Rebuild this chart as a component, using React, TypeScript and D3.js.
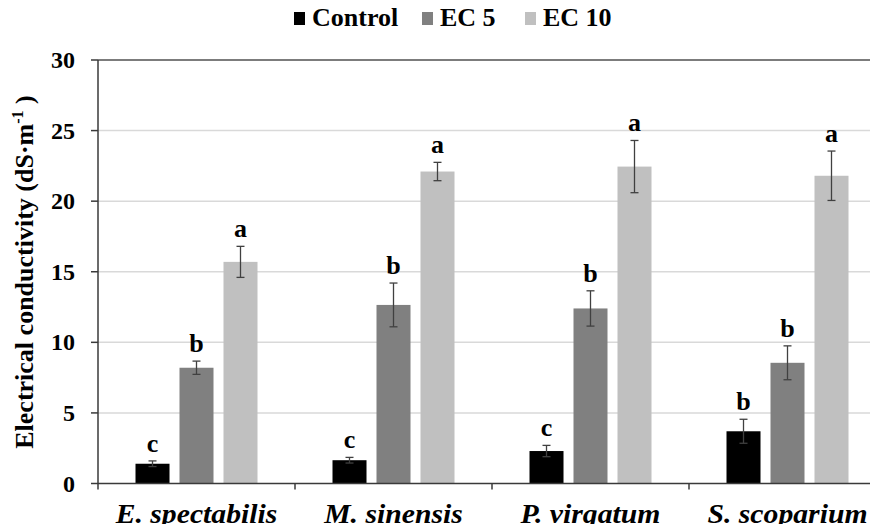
import { useEffect, useRef } from "react";
import * as d3 from "d3";

const species = ["E. spectabilis", "M. sinensis", "P. virgatum", "S. scoparium"];
const seriesNames = ["Control", "EC 5", "EC 10"];
const seriesColors = ["#000000", "#808080", "#c0c0c0"];

const controlValues = [1.4, 1.65, 2.3, 3.7];
const ec5Values = [8.2, 12.65, 12.4, 8.55];
const ec10Values = [15.7, 22.1, 22.45, 21.8];

const controlErrors = [0.2, 0.2, 0.4, 0.85];
const ec5Errors = [0.47, 1.55, 1.25, 1.2];
const ec10Errors = [1.1, 0.65, 1.85, 1.75];

const controlLetters = ["c", "c", "c", "b"];
const ec5Letters = ["b", "b", "b", "b"];
const ec10Letters = ["a", "a", "a", "a"];

const yTicks = [0, 5, 10, 15, 20, 25, 30];

const FONT = "Liberation Serif, Tinos, Times New Roman, Times, DejaVu Serif, serif";

export default function App() {
  const ref = useRef<SVGSVGElement>(null);
  const width = 878;
  const height = 532;

  useEffect(() => {
    const marginTop = 60;
    const marginLeft = 98;
    const plotRight = 886;
    const plotBottom = 483.5;

    const svg = d3.select(ref.current);
    svg.selectAll("*").remove();
    svg.style("font-family", FONT);

    const values = [controlValues, ec5Values, ec10Values];
    const errors = [controlErrors, ec5Errors, ec10Errors];
    const letters = [controlLetters, ec5Letters, ec10Letters];

    const data = species.flatMap((sp, i) =>
      seriesNames.map((s, j) => ({
        species: sp,
        series: s,
        value: values[j][i],
        err: errors[j][i],
        letter: letters[j][i],
        color: seriesColors[j],
      }))
    );

    const x0 = d3.scaleBand().domain(species).range([marginLeft, plotRight]).padding(0);
    const inner = 122;
    const x1 = d3
      .scaleBand()
      .domain(seriesNames)
      .range([(x0.bandwidth() - inner) / 2, (x0.bandwidth() + inner) / 2])
      .paddingInner(0.227)
      .paddingOuter(0);
    const y = d3.scaleLinear().domain([0, 30]).range([plotBottom, marginTop]);

    // stretch text a little wider, the source picture is wide-ish
    const stretch = (sel: any, k: number) =>
      sel.each(function (this: SVGTextElement) {
        const len = this.getComputedTextLength();
        d3.select(this).attr("textLength", len * k).attr("lengthAdjust", "spacingAndGlyphs");
      });

    // gridlines
    svg
      .append("g")
      .selectAll("line")
      .data(yTicks.filter((t) => t > 0))
      .join("line")
      .attr("x1", marginLeft)
      .attr("x2", plotRight)
      .attr("y1", (d) => y(d))
      .attr("y2", (d) => y(d))
      .attr("stroke", (d) => (d === 30 ? "#505050" : "#d9d9d9"))
      .attr("stroke-width", 1.5);

    // bars
    const groups = svg
      .append("g")
      .selectAll("g")
      .data(species)
      .join("g")
      .attr("transform", (d) => `translate(${x0(d)},0)`);

    const bars = groups
      .selectAll("g")
      .data((sp) => data.filter((d) => d.species === sp))
      .join("g");

    bars
      .append("rect")
      .attr("x", (d) => x1(d.series)!)
      .attr("y", (d) => y(d.value))
      .attr("width", x1.bandwidth())
      .attr("height", (d) => y(0) - y(d.value))
      .attr("fill", (d) => d.color);

    // error bars
    const cx = (d: any) => x1(d.series)! + x1.bandwidth() / 2;
    bars
      .append("line")
      .attr("x1", cx)
      .attr("x2", cx)
      .attr("y1", (d) => y(d.value + d.err))
      .attr("y2", (d) => y(d.value - d.err))
      .attr("stroke", "#404040")
      .attr("stroke-width", 1.3);
    [1, -1].forEach((sgn) => {
      bars
        .append("line")
        .attr("x1", (d) => cx(d) - 4)
        .attr("x2", (d) => cx(d) + 4)
        .attr("y1", (d) => y(d.value + sgn * d.err))
        .attr("y2", (d) => y(d.value + sgn * d.err))
        .attr("stroke", "#404040")
        .attr("stroke-width", 1.3);
    });

    bars
      .append("text")
      .attr("x", cx)
      .attr("y", (d) => y(d.value + d.err) - 9)
      .attr("text-anchor", "middle")
      .attr("font-weight", "bold")
      .attr("font-size", 26)
      .text((d) => d.letter);

    // x axis
    const xAxis = svg.append("g");
    xAxis
      .append("line")
      .attr("x1", marginLeft)
      .attr("x2", plotRight)
      .attr("y1", plotBottom)
      .attr("y2", plotBottom)
      .attr("stroke", "#3a3a3a")
      .attr("stroke-width", 1.5);
    xAxis
      .selectAll("line.tick")
      .data(species)
      .join("line")
      .attr("class", "tick")
      .attr("x1", (d) => x0(d)!)
      .attr("x2", (d) => x0(d)!)
      .attr("y1", plotBottom)
      .attr("y2", plotBottom + 6)
      .attr("stroke", "#3a3a3a")
      .attr("stroke-width", 1.5);
    xAxis
      .selectAll("text")
      .data(species)
      .join("text")
      .attr("x", (d) => x0(d)! + x0.bandwidth() / 2)
      .attr("y", 523)
      .attr("text-anchor", "middle")
      .attr("font-weight", "bold")
      .attr("font-style", "italic")
      .attr("font-size", 27)
      .text((d) => d)
      .call(stretch, 1.1);

    // y axis
    const yAxis = svg.append("g");
    yAxis
      .append("line")
      .attr("x1", marginLeft)
      .attr("x2", marginLeft)
      .attr("y1", marginTop)
      .attr("y2", plotBottom)
      .attr("stroke", "#3a3a3a")
      .attr("stroke-width", 1.5);
    yAxis
      .selectAll("line.tick")
      .data(yTicks)
      .join("line")
      .attr("class", "tick")
      .attr("x1", marginLeft - 7)
      .attr("x2", marginLeft)
      .attr("y1", (d) => y(d))
      .attr("y2", (d) => y(d))
      .attr("stroke", "#3a3a3a")
      .attr("stroke-width", 1.5);
    yAxis
      .selectAll("text")
      .data(yTicks)
      .join("text")
      .attr("x", marginLeft - 23)
      .attr("y", (d) => y(d))
      .attr("dy", "0.34em")
      .attr("text-anchor", "end")
      .attr("font-weight", "bold")
      .attr("font-size", 24)
      .text((d) => d);

    // y title
    const title = svg
      .append("text")
      .attr("transform", `translate(33,272) rotate(-90)`)
      .attr("text-anchor", "middle")
      .attr("font-weight", "bold")
      .attr("font-size", 26);
    title.append("tspan").text("Electrical conductivity (dS·m");
    title.append("tspan").attr("dy", -10).attr("font-size", 16).text("-1");
    title.append("tspan").attr("dy", 10).text(" )");

    // legend
    const legendItems = [
      { name: seriesNames[0], color: seriesColors[0], x: 312 },
      { name: seriesNames[1], color: seriesColors[1], x: 440 },
      { name: seriesNames[2], color: seriesColors[2], x: 543 },
    ];
    const legend = svg.append("g").selectAll("g").data(legendItems).join("g")
      .attr("transform", (d) => `translate(${d.x},0)`);
    legend
      .append("rect")
      .attr("x", -18)
      .attr("y", 12)
      .attr("width", 11)
      .attr("height", 13)
      .attr("fill", (d) => d.color);
    legend
      .append("text")
      .attr("x", 0)
      .attr("y", 26)
      .attr("font-weight", "bold")
      .attr("font-size", 26)
      .text((d) => d.name);
  }, []);

  return (
    <div style={{ width, height, overflow: "hidden", margin: -8 }}>
      <svg ref={ref} width={width} height={height} style={{ display: "block", background: "#fff" }} />
    </div>
  );
}
